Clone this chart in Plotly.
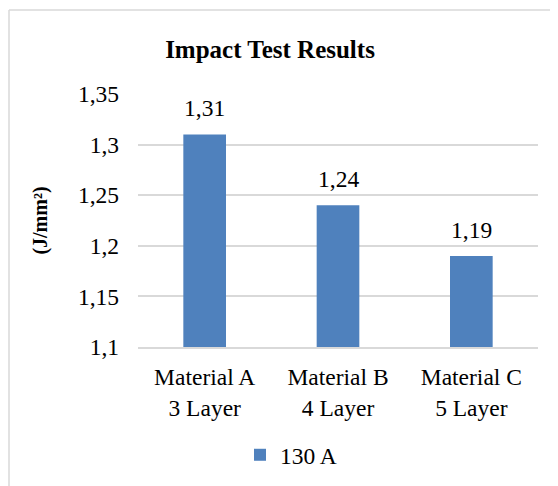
import plotly.graph_objects as go

categories = ["Material A<br>3 Layer", "Material B<br>4 Layer", "Material C<br>5 Layer"]
values = [1.31, 1.24, 1.19]
series_name = "130 A"
tick_vals = [1.1, 1.15, 1.2, 1.25, 1.3, 1.35]
tick_text = ["1,1", "1,15", "1,2", "1,25", "1,3", "1,35"]
value_labels = ["1,31", "1,24", "1,19"]

# page body has an 8px margin; work in reference coords and subtract it
OFF = 8
W, H = 558 - OFF, 486 - OFF
PL, PR, PT, PB = 138, 538, 94, 347  # plot area in reference coords
L, R, T, B = PL - OFF, W - (PR - OFF), PT - OFF, H - (PB - OFF)
pw, ph = W - L - R, H - T - B

def px_x(x):
    return (x - OFF - L) / pw

def px_y(y):
    return (H - B - (y - OFF)) / ph

font = "Liberation Serif"
FS = 23.5

fig = go.Figure()
fig.add_trace(go.Bar(
    x=categories, y=values, name=series_name,
    marker=dict(color="#4F81BD", line=dict(width=0)),
    cliponaxis=False,
))

for c, v, t in zip(categories, values, value_labels):
    fig.add_annotation(x=c, y=v, text=t, showarrow=False, xref="x", yref="y",
                       yanchor="bottom", yshift=11,
                       font=dict(family=font, size=FS, color="#000000"))

fig.update_layout(
    width=W, height=H,
    margin=dict(l=L, r=R, t=T, b=B, autoexpand=False),
    paper_bgcolor="white", plot_bgcolor="white",
    separators=", ",
    font=dict(family=font, size=FS, color="#000000"),
    title=dict(text="<b>Impact Test Results</b>", x=px_x(270), xanchor="center",
               xref="paper", y=1 - (49 - OFF) / H, yanchor="middle",
               font=dict(family=font, size=25, color="#000000")),
    bargap=0.68,
    showlegend=True,
    legend=dict(orientation="h", x=px_x(240), xanchor="left",
                y=px_y(455), yanchor="middle",
                font=dict(family=font, size=FS, color="#000000"),
                itemwidth=30, bgcolor="rgba(0,0,0,0)"),
    xaxis=dict(showgrid=False, showline=True, linecolor="#D9D9D9", linewidth=1.5,
               ticks="", tickfont=dict(family=font, size=FS, color="#000000"),
               ticklabelstandoff=8),
    yaxis=dict(range=[1.1, 1.35], tickvals=tick_vals, ticktext=tick_text,
               showgrid=True, gridcolor="#D9D9D9", gridwidth=1.5,
               zeroline=False, showline=False, ticks="",
               ticklabelstandoff=18,
               tickfont=dict(family=font, size=FS, color="#000000"),
               title=dict(text="<b>(J/mm²)</b>", standoff=24,
                          font=dict(family=font, size=20, color="#000000"))),
    shapes=[
        dict(type="line", xref="paper", yref="paper",
             x0=px_x(9), x1=px_x(9), y0=px_y(10), y1=px_y(600),
             line=dict(color="#D9D9D9", width=1.5)),
        dict(type="line", xref="paper", yref="paper",
             x0=px_x(9), x1=px_x(700), y0=px_y(10), y1=px_y(10),
             line=dict(color="#D9D9D9", width=1.5)),
    ],
)

fig.write_html("out.html")
